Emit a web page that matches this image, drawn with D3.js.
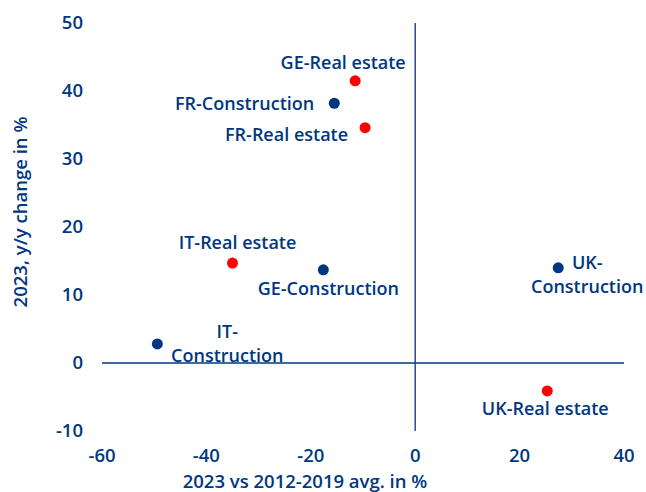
<!DOCTYPE html>
<html>
<head>
<meta charset="utf-8">
<script src="https://cdn.jsdelivr.net/npm/d3@7"></script>
<style>
  body { margin: 0; background: #fff; }
  text { font-family: "Open Sans", sans-serif; fill: #003781; }
</style>
</head>
<body>
<svg id="chart"></svg>
<script>
var width = 646,
    height = 492;

// data
var names   = ["GE-Real estate", "FR-Construction", "FR-Real estate", "IT-Real estate",
               "GE-Construction", "IT-Construction", "UK-Construction", "UK-Real estate"];
var xValues = [-11.5, -15.5, -9.6, -35.0, -17.6, -49.4, 27.4, 25.3];
var yValues = [41.5, 38.2, 34.6, 14.7, 13.7, 2.8, 14.0, -4.1];
var kinds   = ["re", "con", "re", "re", "con", "con", "con", "re"];
var xTicks  = [-60, -40, -20, 0, 20, 40];
var yTicks  = [-10, 0, 10, 20, 30, 40, 50];

// label placement relative to the dot (layout only)
var labelAnchor = ["middle", "end", "end", "middle", "middle", "middle", "middle", "middle"];
var labelDx     = [-12, -20, -17, 5, 5, 70, 29, -2];
var labelDy     = [-18, 0, 7, -20, 19, -12, -5, 18];
var twoLines    = [false, false, false, false, false, true, true, false];

var navy = "#003781",
    red = "#ff0000";
var fs = "18.5px",
    labelFs = "18px";

var x = d3.scaleLinear().domain([-60, 40]).range([102, 624]);
var y = d3.scaleLinear().domain([-10, 50]).range([431, 23]);

var svg = d3.select("#chart").attr("width", width).attr("height", height);

// zero lines
svg.append("line")
    .attr("x1", x(-60)).attr("x2", x(40))
    .attr("y1", y(0)).attr("y2", y(0))
    .style("stroke", navy).style("stroke-width", 1.3);
svg.append("line")
    .attr("x1", x(0)).attr("x2", x(0))
    .attr("y1", y(50)).attr("y2", y(-10))
    .style("stroke", navy).style("stroke-width", 1.3);

// tick labels
svg.selectAll(".ytick").data(yTicks)
    .enter()
    .append("text")
        .attr("x", 83)
        .attr("y", function(d) { return y(d); })
        .attr("dy", "0.35em")
        .attr("text-anchor", "end")
        .style("font-size", fs)
        .style("font-weight", 600)
        .text(function(d) { return d; });

svg.selectAll(".xtick").data(xTicks)
    .enter()
    .append("text")
        .attr("x", function(d) { return x(d); })
        .attr("y", 456)
        .attr("dy", "0.35em")
        .attr("text-anchor", "middle")
        .style("font-size", fs)
        .style("font-weight", 600)
        .text(function(d) { return d; });

// axis titles
svg.append("text")
    .attr("x", 305).attr("y", 488)
    .attr("text-anchor", "middle")
    .style("font-size", fs)
    .style("font-weight", 600)
    .text("2023 vs 2012-2019 avg. in %");

svg.append("text")
    .attr("transform", "translate(27,212) rotate(-90)")
    .attr("text-anchor", "middle")
    .style("font-size", fs)
    .style("font-weight", 600)
    .text("2023, y/y change in %");

// dots
var points = names.map(function(n, i) {
    return { name: n, x: xValues[i], y: yValues[i], kind: kinds[i],
             anchor: labelAnchor[i], dx: labelDx[i], dy: labelDy[i], two: twoLines[i] };
});

svg.selectAll(".point").data(points)
    .enter()
    .append("circle")
        .attr("cx", function(d) { return x(d.x); })
        .attr("cy", function(d) { return y(d.y); })
        .attr("r", 5.5)
        .style("fill", function(d) { return d.kind == "re" ? red : navy; });

// labels
points.forEach(function(d) {
    var lx = x(d.x) + d.dx, ly = y(d.y) + d.dy;
    var t = svg.append("text")
        .attr("text-anchor", d.anchor)
        .style("font-size", labelFs)
        .style("font-weight", 600);
    if (d.two) {
        var parts = d.name.split("-");
        t.append("tspan").attr("x", lx).attr("y", ly).attr("dy", "0.35em")
            .text(parts[0] + "-");
        t.append("tspan").attr("x", lx).attr("y", ly + 24).attr("dy", "0.35em")
            .text(parts[1]);
    } else {
        t.attr("x", lx).attr("y", ly).attr("dy", "0.35em").text(d.name);
    }
});
</script>
</body>
</html>
